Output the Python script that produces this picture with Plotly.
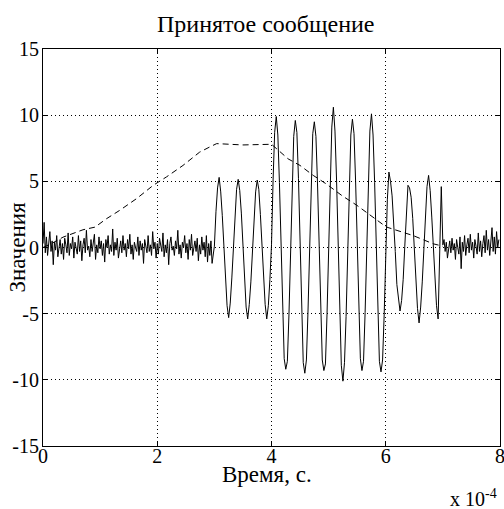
import numpy as np
import plotly.graph_objects as go

# ---- data (time in units of 1e-4 s) ----
noise_start = [0.3, 1.9, -0.4, 0.8, -0.6, 0.2, 1.2, -0.3, 0.5, -1.3, 0.4, -0.2, 0.9, -0.7, 0.1, 0.6, -0.5, 0.3, -0.9, 0.7,
               0.2, -0.4, 1.1, -0.6, 0.3, -0.1, 0.8, -0.8, 0.4, 0.0, -0.5, 0.9, -0.3, 0.5, -1.0, 0.2, 0.7, -0.4, 1.3, -0.2,
               0.1, -0.7, 0.6, -0.3, 0.4, 1.0, -0.9, 0.2, -0.4, 0.8, -0.1, 0.5, -0.6, 0.3, -1.1, 0.6, 0.0, 0.9, -0.5, 0.2,
               -0.3, 1.4, -0.6, 0.4, -0.2, 0.7, -0.8, 0.1, 0.5, -0.4, 0.9, -0.2, 0.3, -0.7, 0.6, -0.1, 1.0, -0.5, 0.2, -0.9,
               0.4, 0.0, -0.3, 0.8, -0.6, 0.5, -0.2, 0.3, -1.2, 0.6, 0.1, -0.4, 0.9, -0.3, 0.2, -0.6, 1.2, -0.1, 0.4, -0.8,
               0.3, -0.5, 0.7, 0.0, -0.3, 1.1, -0.7, 0.2, -0.4, 0.6, -1.3, 0.3, 0.8, -0.2, 0.1, -0.6, 0.5, -0.1, 1.3, -0.5,
               0.2, -0.8, 0.4, 0.0, 0.9, -0.4, 0.3, -0.9, 0.6, -0.2, 1.0, -0.6, 0.1, 0.5, -0.3, 0.7, -1.0, 0.2, -0.5, 0.8,
               -0.2, 0.4, -0.7, 0.9, -1.1, 0.3, -0.6, 0.5, -1.2, -0.4]

signal_low1 = [0.1, 2.7, 4.5, 5.3, 4.2, 2.4, -0.2, -2.6, -4.4, -5.3, -4.2, -2.3,
               0.2, 2.6, 4.4, 5.15, 4.3, 2.6, 0.1, -2.4, -4.5, -5.4, -4.3, -2.6,
               -0.1, 2.5, 4.2, 5.1, 4.4, 2.5, 0.2, -2.5, -4.3, -5.4, -4.4, -2.4]

signal_high = [0.2, 5.1, 8.7, 9.9, 8.5, 4.9, 0.1, -5.0, -8.4, -9.2, -8.6, -5.1,
               -0.2, 4.8, 8.4, 9.6, 8.7, 5.2, 0.3, -4.9, -8.7, -9.5, -8.5, -4.8,
               0.1, 5.0, 8.6, 9.5, 8.4, 4.8, -0.3, -5.2, -8.5, -9.3, -8.8, -5.0,
               0.3, 5.3, 9.1, 10.6, 8.8, 5.1, 0.0, -4.8, -8.9, -10.1, -8.7, -5.2,
               -0.1, 4.9, 8.5, 9.7, 8.6, 5.0, 0.2, -5.1, -8.4, -9.3, -8.6, -4.9,
               0.2, 5.2, 8.8, 10.1, 8.5, 4.9, -0.2, -5.0, -8.6, -9.4, -8.5, -5.1]

signal_low2 = [0.3, 3.6, 5.7, 5.0, 3.9, 2.1, -0.3, -2.8, -4.1, -4.8, -4.0, -2.4,
               0.1, 2.3, 4.7, 4.5, 3.8, 2.2, 0.1, -2.7, -4.6, -5.7, -4.5, -2.6,
               0.2, 2.6, 4.6, 5.45, 4.3, 2.3, -0.1, -2.6, -4.4, -5.4, -0.5, 4.6]

noise_end = [0.2, 0.6, -0.3, 0.4, -0.8, 0.1, 0.5, -0.4, 0.7, -0.2,
             0.3, -0.9, 0.6, 0.0, -0.5, 0.8, -1.6, 0.4, -0.3, 0.9,
             -0.6, 0.2, 0.7, -0.4, 1.0, -0.2, 0.4, -0.8, 0.6, 0.1,
             -0.5, 1.1, -0.3, 0.5, -0.7, 0.3, 0.9, -0.4, 1.3, -0.2,
             0.6, -0.6, 0.4, 1.5, -0.3, 0.8, -0.5, 1.2, 0.0, 0.6]

env_t = [0.0, 0.15, 0.35, 0.70, 0.91, 1.11, 1.34, 1.64, 1.93, 2.16, 2.45, 2.74, 2.92, 3.04, 3.5, 4.0,
         4.12, 4.29, 4.50, 4.73, 4.96, 5.24, 5.49, 5.66, 6.01, 6.48, 6.83, 7.0]
env_v = [0.0, 0.3, 0.78, 1.34, 1.54, 2.17, 2.8, 3.7, 4.7, 5.33, 6.2, 7.2, 7.6, 7.85, 7.75, 7.8,
         7.35, 6.7, 6.2, 5.45, 4.8, 3.9, 3.2, 2.67, 1.55, 0.9, 0.28, 0.1]

x_ticks = [0, 2, 4, 6, 8]
y_ticks = [-15, -10, -5, 0, 5, 10, 15]

# sample time grids (uniform sampling of each segment)
segments = [(0, 3, noise_start), (3, 4, signal_low1), (4, 6, signal_high),
            (6, 7, signal_low2), (7, 8, noise_end)]
t_all, v_all = [], []
for a, b, vals in segments:
    t_all.extend(np.linspace(a, b, len(vals), endpoint=False).tolist())
    v_all.extend(vals)

FONT = "Liberation Serif"

fig = go.Figure()
fig.add_trace(go.Scatter(x=t_all, y=v_all, mode="lines",
                         line=dict(color="black", width=1), showlegend=False))
fig.add_trace(go.Scatter(x=env_t, y=env_v, mode="lines",
                         line=dict(color="black", width=1, dash="6px,4px"), showlegend=False))

axis_common = dict(showline=True, linecolor="black", linewidth=1, mirror="ticks",
                   ticks="inside", ticklen=5, tickcolor="black",
                   showgrid=True, gridcolor="black", gridwidth=1, griddash="1px,3px",
                   zeroline=False, ticklabeloverflow="allow", automargin=False,
                   tickfont=dict(family=FONT, size=20, color="black"))

fig.update_xaxes(range=[0, 8], tickvals=x_ticks, ticktext=[str(v) for v in x_ticks],
                 ticklabelstandoff=-8, **axis_common)
fig.update_yaxes(range=[-15, 15], tickvals=y_ticks, ticktext=[str(v) for v in y_ticks],
                 ticklabelstandoff=-1, **axis_common)

fig.update_layout(
    width=504, height=509,
    margin=dict(l=43, r=4, t=49, b=63),
    plot_bgcolor="white", paper_bgcolor="white",
    annotations=[
        dict(text="Принятое сообщение", xref="paper", yref="paper", x=(266 - 43) / 457, y=1 + 25 / 397,
             xanchor="center", yanchor="middle", showarrow=False,
             font=dict(family=FONT, size=24, color="black")),
        dict(text="Время, с.", xref="paper", yref="paper", x=(267 - 43) / 457, y=-28 / 397,
             xanchor="center", yanchor="middle", showarrow=False,
             font=dict(family=FONT, size=23, color="black")),
        dict(text="Значения", xref="paper", yref="paper", x=(17 - 43) / 457, y=0.5,
             xanchor="center", yanchor="middle", textangle=-90, showarrow=False,
             font=dict(family=FONT, size=23, color="black")),
        dict(text="x 10<sup>-4</sup>", xref="paper", yref="paper", x=(499 - 43) / 457, y=-52 / 397,
             xanchor="right", yanchor="middle", showarrow=False,
             font=dict(family=FONT, size=20, color="black")),
    ],
)

fig.write_html("out.html")
